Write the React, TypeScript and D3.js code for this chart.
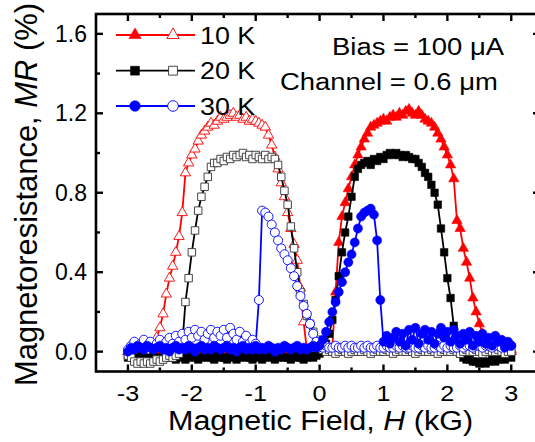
import React from 'react';
import * as d3 from 'd3';

// magnetic field grid (kG), shared by every sweep
const FIELD = [
  -3.0, -2.95, -2.9, -2.85, -2.8, -2.75, -2.7, -2.65, -2.6, -2.55,
  -2.5, -2.45, -2.4, -2.35, -2.3, -2.25, -2.2, -2.15, -2.1, -2.05,
  -2.0, -1.95, -1.9, -1.85, -1.8, -1.75, -1.7, -1.65, -1.6, -1.55,
  -1.5, -1.45, -1.4, -1.35, -1.3, -1.25, -1.2, -1.15, -1.1, -1.05,
  -1.0, -0.95, -0.9, -0.85, -0.8, -0.75, -0.7, -0.65, -0.6, -0.55,
  -0.5, -0.45, -0.4, -0.35, -0.3, -0.25, -0.2, -0.15, -0.1, -0.05,
  0.0, 0.05, 0.1, 0.15, 0.2, 0.25, 0.3, 0.35, 0.4, 0.45,
  0.5, 0.55, 0.6, 0.65, 0.7, 0.75, 0.8, 0.85, 0.9, 0.95,
  1.0, 1.05, 1.1, 1.15, 1.2, 1.25, 1.3, 1.35, 1.4, 1.45,
  1.5, 1.55, 1.6, 1.65, 1.7, 1.75, 1.8, 1.85, 1.9, 1.95,
  2.0, 2.05, 2.1, 2.15, 2.2, 2.25, 2.3, 2.35, 2.4, 2.45,
  2.5, 2.55, 2.6, 2.65, 2.7, 2.75, 2.8, 2.85, 2.9, 2.95,
  3.0,
];

// MR (%) per field value
const mr10Up = [
  0.0, -0.01, 0.01, 0.0, -0.01, 0.01, 0.0, 0.01, -0.01, 0.0,
  0.01, 0.0, -0.01, 0.0, 0.01, 0.0, -0.01, 0.01, 0.0, 0.0,
  -0.01, 0.01, 0.0, 0.01, -0.01, 0.0, 0.01, 0.0, -0.01, 0.0,
  0.01, 0.0, 0.0, -0.01, 0.01, 0.0, 0.01, -0.01, 0.0, 0.01,
  0.0, -0.01, 0.01, 0.0, 0.0, 0.01, -0.01, 0.0, 0.01, 0.0,
  -0.01, 0.0, 0.01, 0.0, -0.01, 0.01, 0.0, 0.0, 0.01, 0.0,
  0.0, 0.01, 0.0, 0.01, 0.02, 0.3, 0.55, 0.68, 0.75, 0.82,
  0.88, 0.94, 0.99, 1.03, 1.07, 1.1, 1.13, 1.14, 1.15, 1.16,
  1.17, 1.16, 1.18, 1.19, 1.18, 1.2, 1.19, 1.21, 1.22, 1.2,
  1.19, 1.21, 1.19, 1.17, 1.16, 1.15, 1.13, 1.1, 1.07, 1.03,
  0.99, 0.94, 0.87, 0.66, 0.62, 0.52, 0.45, 0.37, 0.27, 0.2,
  0.14, 0.09, 0.05, 0.03, 0.02, 0.01, 0.0, 0.01, 0.0, 0.01,
  0.0,
];
const mr10Down = [
  0.0, 0.01, 0.0, -0.01, 0.01, 0.0, 0.01, 0.0, 0.02, 0.07,
  0.12, 0.19, 0.29, 0.37, 0.43, 0.5, 0.58, 0.7, 0.9, 0.95,
  0.99, 1.02, 1.06, 1.09, 1.11, 1.13, 1.15, 1.14, 1.16, 1.18,
  1.17, 1.18, 1.19, 1.2, 1.18, 1.19, 1.17, 1.18, 1.16, 1.17,
  1.16, 1.15, 1.14, 1.13, 1.09, 1.04, 0.98, 0.92, 0.85, 0.78,
  0.7, 0.62, 0.54, 0.46, 0.32, 0.15, 0.01, 0.0, 0.01, 0.0,
  0.01, 0.0, 0.01, 0.0, 0.0, 0.01, 0.0, 0.01, 0.0, 0.01,
  0.0, 0.01, 0.0, 0.0, 0.01, 0.0, 0.01, 0.0, 0.0, 0.01,
  0.0, 0.01, 0.0, 0.01, 0.0, 0.0, 0.01, 0.0, 0.01, 0.0,
  0.01, 0.0, 0.0, 0.01, 0.0, 0.01, 0.0, 0.01, 0.0, 0.0,
  0.01, 0.0, 0.01, 0.0, 0.01, 0.0, 0.0, 0.01, 0.0, 0.01,
  0.0, 0.01, 0.0, 0.01, 0.0, 0.01, 0.0, 0.0, 0.01, 0.0,
  0.01,
];
const mr20Up = [
  -0.03, -0.02, -0.04, -0.03, -0.02, -0.03, -0.04, -0.03, -0.02, -0.03,
  -0.04, -0.03, -0.02, -0.03, -0.03, -0.04, -0.02, -0.03, -0.04, -0.03,
  -0.02, -0.03, -0.04, -0.03, -0.02, -0.03, -0.03, -0.04, -0.02, -0.03,
  -0.03, -0.04, -0.02, -0.03, -0.04, -0.03, -0.02, -0.03, -0.03, -0.04,
  -0.02, -0.03, -0.04, -0.03, -0.02, -0.03, -0.04, -0.03, -0.02, -0.03,
  -0.03, -0.04, -0.02, -0.03, -0.03, -0.04, -0.03, -0.02, -0.03, -0.02,
  -0.01, 0.01, 0.04, 0.09, 0.16, 0.26, 0.38, 0.5, 0.6, 0.68,
  0.78, 0.88, 0.92, 0.94, 0.95, 0.96, 0.94, 0.97, 0.96, 0.98,
  0.97, 0.99, 1.0, 0.99, 1.0, 0.99, 0.98, 0.99, 0.98, 0.97,
  0.97, 0.95, 0.93, 0.9, 0.88, 0.84, 0.8, 0.74, 0.62, 0.5,
  0.37, 0.27, 0.13, 0.02, -0.01, -0.03, -0.04, -0.04, -0.05, -0.05,
  -0.06, -0.05, -0.06, -0.05, -0.04, -0.05, -0.04, -0.03, -0.04, -0.02,
  -0.03,
];
const mr20Down = [
  -0.02, -0.03, -0.05, -0.06, -0.05, -0.06, -0.05, -0.06, -0.05, -0.04,
  -0.05, -0.04, -0.03, -0.02, -0.03, -0.02, -0.01, 0.03, 0.25, 0.37,
  0.5, 0.61, 0.71, 0.78, 0.83, 0.88, 0.93, 0.95, 0.95, 0.97,
  0.96, 0.98, 0.97, 0.99, 0.98, 0.99, 1.0, 0.98, 0.99, 0.97,
  0.99, 0.98, 0.97, 0.99, 0.97, 0.98, 0.97, 0.94, 0.88, 0.81,
  0.74, 0.63, 0.52, 0.4, 0.3, 0.24, 0.18, 0.14, 0.1, 0.06,
  0.03, 0.01, 0.0, 0.01, 0.0, -0.01, 0.0, 0.01, 0.0, -0.01,
  0.0, 0.01, 0.0, 0.0, 0.01, 0.0, -0.01, 0.0, 0.01, 0.0,
  0.0, 0.01, 0.0, -0.01, 0.0, 0.01, 0.0, 0.0, 0.01, 0.0,
  -0.01, 0.0, 0.01, 0.0, 0.0, 0.01, 0.0, -0.01, 0.0, 0.01,
  0.0, 0.0, 0.01, 0.0, -0.01, 0.0, 0.01, 0.0, 0.0, 0.01,
  0.0, -0.01, 0.0, 0.01, 0.0, 0.0, 0.01, 0.0, -0.01, 0.0,
  0.0,
];
const mr30Up = [
  0.0, 0.02, 0.01, 0.03, 0.02, 0.01, 0.03, 0.02, 0.01, 0.02,
  0.03, 0.01, 0.02, 0.0, 0.02, 0.03, 0.01, 0.02, 0.01, 0.03,
  0.02, 0.0, 0.02, 0.03, 0.01, 0.02, 0.01, 0.03, 0.02, 0.01,
  0.02, 0.03, 0.01, 0.02, 0.0, 0.02, 0.03, 0.01, 0.02, 0.01,
  0.03, 0.01, 0.02, 0.01, 0.03, 0.02, 0.0, 0.02, 0.01, 0.03,
  0.02, 0.01, 0.02, 0.03, 0.01, 0.02, 0.01, 0.02, 0.03, 0.02,
  0.03, 0.06, 0.1, 0.15, 0.2, 0.25, 0.3, 0.35, 0.4, 0.45,
  0.49, 0.55, 0.62, 0.68, 0.7, 0.71, 0.72, 0.69, 0.56, 0.26,
  0.05, 0.08, 0.04, 0.07, 0.1, 0.05, 0.09, 0.03, 0.11, 0.06,
  0.12, 0.04, 0.09, 0.11, 0.06, 0.1, 0.04, 0.09, 0.12, 0.07,
  0.1, 0.05, 0.11, 0.08, 0.04, 0.09, 0.06, 0.1, 0.03, 0.08,
  0.05, 0.09, 0.04, 0.07, 0.03, 0.08, 0.05, 0.06, 0.02, 0.05,
  0.03,
];
const mr30Down = [
  0.01, 0.03, 0.05, 0.02, 0.04, 0.06, 0.03, 0.05, 0.02, 0.04,
  0.06, 0.03, 0.05, 0.07, 0.04, 0.08, 0.05, 0.09, 0.06, 0.1,
  0.07, 0.11, 0.08, 0.1, 0.06, 0.09, 0.11, 0.07, 0.1, 0.08,
  0.11, 0.07, 0.12, 0.09, 0.06, 0.1, 0.05, 0.08, 0.04, 0.06,
  0.04, 0.26, 0.71, 0.7, 0.68, 0.64, 0.6, 0.56, 0.52, 0.49,
  0.46, 0.42, 0.38, 0.33, 0.28, 0.23, 0.19, 0.14, 0.09, 0.05,
  0.03, 0.02, 0.03, 0.02, 0.02, 0.03, 0.02, 0.02, 0.03, 0.02,
  0.03, 0.02, 0.02, 0.03, 0.02, 0.03, 0.02, 0.02, 0.03, 0.02,
  0.02, 0.03, 0.02, 0.02, 0.03, 0.02, 0.03, 0.02, 0.02, 0.03,
  0.02, 0.02, 0.03, 0.02, 0.03, 0.02, 0.02, 0.03, 0.02, 0.03,
  0.02, 0.03, 0.02, 0.02, 0.03, 0.02, 0.03, 0.03, 0.02, 0.03,
  0.03, 0.02, 0.03, 0.03, 0.02, 0.03, 0.03, 0.02, 0.03, 0.03,
  0.03,
];

const xMajor = [-3, -2, -1, 0, 1, 2, 3];
const xMinor = [-2.5, -1.5, -0.5, 0.5, 1.5, 2.5];
const yMajor = [0, 0.4, 0.8, 1.2, 1.6];
const yMinor = [0.2, 0.6, 1.0, 1.4];

const legendLabels = ['10 K', '20 K', '30 K'];

const FONT = '"Liberation Sans", Arial, sans-serif';
const W = 535;
const H = 442;
const left = 96, right = 540, top = 14, bottom = 371.5;

const x = d3.scaleLinear().domain([-3.5, 3.45]).range([left, right]);
const y = d3.scaleLinear().domain([-0.1, 1.7]).range([bottom, top]);

const line = d3.line<[number, number]>().x(d => x(d[0])).y(d => y(d[1]));

const series = [
  { values: mr10Up, color: '#ff0000', shape: d3.symbolTriangle, size: 46, open: false },
  { values: mr10Down, color: '#ff0000', shape: d3.symbolTriangle, size: 46, open: true },
  { values: mr20Up, color: '#000000', shape: d3.symbolSquare, size: 56, open: false },
  { values: mr20Down, color: '#000000', shape: d3.symbolSquare, size: 56, open: true },
  { values: mr30Down, color: '#0000ff', shape: d3.symbolCircle, size: 64, open: true },
  { values: mr30Up, color: '#0000ff', shape: d3.symbolCircle, size: 64, open: false },
];

const Marker = ({ cx, cy, shape, size, color, open }: any) => (
  <path
    transform={`translate(${cx},${cy})`}
    d={d3.symbol(shape, size)() as string}
    fill={open ? '#ffffff' : color}
    stroke={open ? (color === '#000000' ? '#333333' : color) : color}
    strokeWidth={open ? 0.9 : 0.6}
  />
);

const SX = 1.12;

export default function App() {
  const legendRows = [
    { label: legendLabels[0], s: series[0], o: series[1] },
    { label: legendLabels[1], s: series[2], o: series[3] },
    { label: legendLabels[2], s: series[5], o: series[4] },
  ];
  const legendY = [35, 70.7, 106];

  return (
    <svg width={W} height={H} style={{ position: 'absolute', left: 0, top: 0, background: '#fff' }}
      fontFamily={FONT}>
      {series.map((s, si) => {
        const pts = FIELD.map((f, i) => [f, s.values[i]] as [number, number]);
        return (
          <g key={si}>
            <path d={line(pts) as string} fill="none" stroke={s.color} strokeWidth={1.8} />
            {pts.map((p, i) => (
              <Marker key={i} cx={x(p[0])} cy={y(p[1])} shape={s.shape} size={s.size}
                color={s.color} open={s.open} />
            ))}
          </g>
        );
      })}

      {/* frame */}
      <rect x={left} y={top} width={right - left} height={bottom - top} fill="none"
        stroke="#000" strokeWidth={2.6} />
      {xMajor.map(v => (
        <g key={'xM' + v}>
          <line x1={x(v)} x2={x(v)} y1={bottom} y2={bottom - 7} stroke="#000" strokeWidth={2.4} />
          <line x1={x(v)} x2={x(v)} y1={top} y2={top + 7} stroke="#000" strokeWidth={2.4} />
          <text x={x(v)} y={401.5} textAnchor="middle" fontSize={22.5}
            transform={`translate(${x(v)},0) scale(${SX},1) translate(${-x(v)},0)`}>{String(v)}</text>
        </g>
      ))}
      {xMinor.map(v => (
        <g key={'xm' + v}>
          <line x1={x(v)} x2={x(v)} y1={bottom} y2={bottom - 4} stroke="#000" strokeWidth={2.4} />
          <line x1={x(v)} x2={x(v)} y1={top} y2={top + 4} stroke="#000" strokeWidth={2.4} />
        </g>
      ))}
      {yMajor.map(v => (
        <g key={'yM' + v}>
          <line x1={left} x2={left + 7} y1={y(v)} y2={y(v)} stroke="#000" strokeWidth={2.4} />
          <line x1={right} x2={right - 7} y1={y(v)} y2={y(v)} stroke="#000" strokeWidth={2.4} />
          <text x={87} y={y(v) + 8} textAnchor="end" fontSize={23}>{v.toFixed(1)}</text>
        </g>
      ))}
      {yMinor.map(v => (
        <g key={'ym' + v}>
          <line x1={left} x2={left + 4} y1={y(v)} y2={y(v)} stroke="#000" strokeWidth={2.4} />
          <line x1={right} x2={right - 4} y1={y(v)} y2={y(v)} stroke="#000" strokeWidth={2.4} />
        </g>
      ))}

      {/* axis titles */}
      <text transform="translate(168,430) scale(1.13,1)" fontSize={27}>
        Magnetic Field, <tspan fontStyle="italic">H</tspan> (kG)
      </text>
      <text transform={`translate(37,386) rotate(-90) scale(1,${SX})`} fontSize={28}
        textLength={383} lengthAdjust="spacingAndGlyphs">
        Magnetoresistance, <tspan fontStyle="italic">MR</tspan> (%)
      </text>

      {/* legend */}
      {legendRows.map((r, i) => (
        <g key={r.label}>
          <line x1={116} x2={195} y1={legendY[i]} y2={legendY[i]} stroke={r.s.color} strokeWidth={1.8} />
          <Marker cx={135} cy={legendY[i]} shape={r.s.shape} size={r.s.size * 1.4} color={r.s.color} open={false} />
          <Marker cx={173} cy={legendY[i]} shape={r.o.shape} size={r.o.size * 1.4} color={r.o.color} open={true} />
          <text transform={`translate(200,${legendY[i] + 8.5}) scale(${SX},1)`} fontSize={24}>{r.label}</text>
        </g>
      ))}

      {/* annotations */}
      <text transform={`translate(332,55) scale(${SX},1)`} fontSize={24.5}>Bias = 100 μA</text>
      <text transform={`translate(280,90) scale(${SX},1)`} fontSize={24.5}>Channel = 0.6 μm</text>
    </svg>
  );
}
